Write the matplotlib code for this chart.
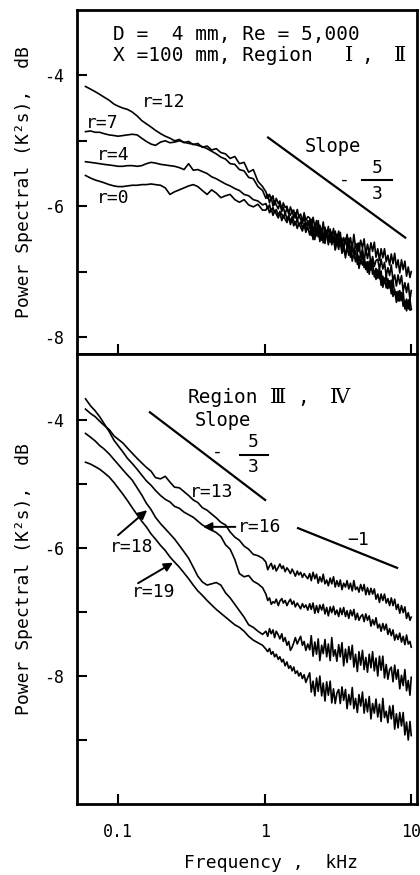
import matplotlib
matplotlib.use('Agg')
import matplotlib.pyplot as plt
from matplotlib.ticker import FixedLocator, NullLocator, NullFormatter

MONO = ['DejaVu Sans Mono', 'DejaVu Sans', 'Noto Sans CJK JP']
ROMAN = ['DejaVu Serif', 'Noto Sans CJK JP']

# shared frequency grid (kHz) for all spectra
FREQ = [0.060, 0.065, 0.070, 0.075, 0.080, 0.087, 0.094, 0.100, 0.108, 0.116,
        0.125, 0.135, 0.145, 0.156, 0.168, 0.180, 0.195, 0.210, 0.226, 0.243,
        0.262, 0.282, 0.303, 0.326, 0.350, 0.376, 0.405, 0.435, 0.468, 0.503,
        0.541, 0.582, 0.626, 0.673, 0.724, 0.778, 0.837, 0.900, 0.968,
        1.02, 1.05, 1.08, 1.11, 1.14, 1.17, 1.20, 1.24, 1.27, 1.31, 1.34, 1.38,
        1.42, 1.46, 1.50, 1.54, 1.58, 1.62, 1.67, 1.71, 1.76, 1.81, 1.86, 1.91, 1.97,
        2.03, 2.08, 2.14, 2.20, 2.26, 2.32, 2.38, 2.45, 2.51, 2.58,
        2.65, 2.72, 2.80, 2.87, 2.95, 3.03, 3.11, 3.20, 3.28, 3.37,
        3.46, 3.56, 3.65, 3.75, 3.85, 3.96, 4.06, 4.17, 4.29, 4.40,
        4.52, 4.65, 4.77, 4.90, 5.03, 5.17, 5.31, 5.45, 5.60, 5.75,
        5.91, 6.07, 6.23, 6.40, 6.57, 6.75, 6.93, 7.12, 7.31, 7.51,
        7.71, 7.92, 8.13, 8.35, 8.58, 8.81, 9.05, 9.29, 9.54, 9.80, 10.0]

# upper panel: Region I, II  (level, dB scale of the original)
R12 = [-4.17, -4.21, -4.25, -4.29, -4.33, -4.38, -4.44, -4.47, -4.50, -4.52,
       -4.56, -4.62, -4.69, -4.74, -4.79, -4.84, -4.89, -4.93, -4.96, -5.00,
       -4.98, -5.03, -5.01, -5.06, -5.04, -5.10, -5.08, -5.14, -5.12, -5.18,
       -5.20, -5.27, -5.24, -5.35, -5.33, -5.48, -5.44, -5.62, -5.70,
       -5.78, -5.88, -5.82, -5.90, -5.84, -5.98, -5.88, -5.96, -5.92, -6.06, -5.95, -6.02,
       -6.00, -6.12, -6.01, -6.10, -6.06, -6.18, -6.05, -6.16, -6.12, -6.24, -6.10, -6.22, -6.16,
       -6.18, -6.34, -6.17, -6.32, -6.22, -6.43, -6.29, -6.41, -6.24, -6.47,
       -6.37, -6.53, -6.35, -6.48, -6.34, -6.57, -6.43, -6.56, -6.40, -6.63,
       -6.48, -6.57, -6.43, -6.62, -6.48, -6.66, -6.43, -6.63, -6.57, -6.69,
       -6.52, -6.64, -6.50, -6.74, -6.58, -6.72, -6.56, -6.69, -6.55, -6.78,
       -6.65, -6.83, -6.65, -6.79, -6.65, -6.85, -6.75, -6.90, -6.73, -6.88,
       -6.72, -6.94, -6.82, -7.02, -6.82, -6.97, -6.84, -7.07, -6.93, -7.09, -7.00]
R7 = [-4.86, -4.85, -4.87, -4.87, -4.89, -4.91, -4.92, -4.93, -4.92, -4.91,
      -4.90, -4.91, -4.96, -5.01, -5.05, -5.07, -5.02, -5.00, -5.03, -5.02,
      -5.00, -5.02, -5.04, -5.05, -5.07, -5.09, -5.12, -5.16, -5.20, -5.25,
      -5.28, -5.35, -5.36, -5.44, -5.46, -5.56, -5.58, -5.70, -5.76,
      -5.88, -5.82, -5.95, -5.86, -6.00, -5.92, -5.98, -6.04, -5.95, -6.08, -6.02, -6.12,
      -6.03, -6.10, -6.14, -6.06, -6.18, -6.10, -6.22, -6.14, -6.20, -6.26, -6.16, -6.30, -6.22,
      -6.34, -6.20, -6.39, -6.27, -6.45, -6.22, -6.42, -6.36, -6.49, -6.32,
      -6.45, -6.31, -6.55, -6.40, -6.54, -6.38, -6.51, -6.38, -6.61, -6.49,
      -6.67, -6.49, -6.63, -6.49, -6.69, -6.59, -6.74, -6.57, -6.71, -6.56,
      -6.78, -6.65, -6.85, -6.65, -6.80, -6.67, -6.90, -6.77, -6.92, -6.83,
      -6.81, -6.97, -6.81, -6.96, -6.86, -7.07, -6.94, -7.06, -6.90, -7.14,
      -7.05, -7.22, -7.05, -7.19, -7.06, -7.30, -7.17, -7.32, -7.18, -7.43, -7.29]
R4 = [-5.32, -5.33, -5.34, -5.35, -5.36, -5.37, -5.38, -5.39, -5.39, -5.38,
      -5.38, -5.39, -5.38, -5.35, -5.33, -5.34, -5.36, -5.37, -5.38, -5.39,
      -5.41, -5.44, -5.35, -5.45, -5.44, -5.47, -5.50, -5.55, -5.58, -5.62,
      -5.66, -5.69, -5.73, -5.76, -5.82, -5.84, -5.90, -5.92, -5.98,
      -5.96, -6.04, -5.98, -6.08, -6.02, -6.10, -6.05, -6.14, -6.08, -6.12, -6.18, -6.10,
      -6.20, -6.14, -6.24, -6.16, -6.22, -6.28, -6.19, -6.30, -6.24, -6.33, -6.26, -6.36, -6.28,
      -6.22, -6.45, -6.33, -6.51, -6.32, -6.47, -6.32, -6.52, -6.42, -6.57,
      -6.39, -6.54, -6.38, -6.59, -6.47, -6.66, -6.47, -6.62, -6.48, -6.71,
      -6.58, -6.74, -6.65, -6.63, -6.78, -6.62, -6.77, -6.68, -6.89, -6.76,
      -6.88, -6.71, -6.94, -6.85, -7.01, -6.84, -6.98, -6.85, -7.08, -6.95,
      -7.10, -6.96, -7.21, -7.07, -7.18, -7.05, -7.26, -7.14, -7.34, -7.13,
      -7.35, -7.31, -7.45, -7.29, -7.44, -7.31, -7.57, -7.42, -7.57, -7.43, -7.57]
R0 = [-5.53, -5.57, -5.60, -5.62, -5.64, -5.67, -5.69, -5.70, -5.70, -5.69,
      -5.68, -5.68, -5.67, -5.67, -5.66, -5.67, -5.68, -5.72, -5.82, -5.78,
      -5.75, -5.72, -5.69, -5.67, -5.70, -5.76, -5.82, -5.75, -5.80, -5.87,
      -5.84, -5.82, -5.90, -5.94, -5.90, -5.98, -6.01, -5.97, -6.06,
      -6.06, -6.00, -6.10, -6.04, -6.14, -6.07, -6.12, -6.18, -6.10, -6.22, -6.14, -6.20,
      -6.25, -6.16, -6.28, -6.20, -6.30, -6.24, -6.34, -6.26, -6.32, -6.38, -6.28, -6.40, -6.32,
      -6.44, -6.31, -6.51, -6.31, -6.45, -6.32, -6.54, -6.40, -6.56, -6.46,
      -6.43, -6.59, -6.42, -6.56, -6.47, -6.67, -6.54, -6.66, -6.49, -6.72,
      -6.63, -6.79, -6.62, -6.75, -6.61, -6.84, -6.71, -6.85, -6.71, -6.95,
      -6.81, -6.90, -6.77, -6.97, -6.85, -7.04, -6.83, -7.04, -6.99, -7.12,
      -6.97, -7.11, -6.99, -7.24, -7.10, -7.25, -7.11, -7.25, -7.13, -7.38,
      -7.27, -7.47, -7.30, -7.45, -7.32, -7.53, -7.44, -7.60, -7.43, -7.59, -7.58]

# lower panel: Region III, IV
R13 = [-3.83, -3.90, -3.95, -4.02, -4.08, -4.15, -4.25, -4.30, -4.36, -4.44,
       -4.52, -4.60, -4.67, -4.74, -4.80, -4.90, -4.92, -4.88, -4.97, -5.05,
       -5.06, -5.12, -5.18, -5.25, -5.29, -5.37, -5.41, -5.47, -5.53, -5.60,
       -5.64, -5.75, -5.83, -5.88, -5.97, -6.02, -6.10, -6.12, -6.16,
       -6.22, -6.34, -6.28, -6.24, -6.33, -6.27, -6.36, -6.30, -6.25, -6.32, -6.28, -6.37,
       -6.31, -6.35, -6.40, -6.33, -6.38, -6.44, -6.36, -6.42, -6.38, -6.46, -6.40, -6.44, -6.48,
       -6.40, -6.51, -6.38, -6.48, -6.41, -6.55, -6.45, -6.53, -6.41, -6.56,
       -6.50, -6.59, -6.47, -6.56, -6.45, -6.61, -6.51, -6.60, -6.50, -6.65,
       -6.55, -6.61, -6.51, -6.64, -6.55, -6.67, -6.51, -6.65, -6.61, -6.69,
       -6.57, -6.67, -6.57, -6.73, -6.62, -6.73, -6.63, -6.72, -6.64, -6.80,
       -6.72, -6.85, -6.72, -6.82, -6.72, -6.86, -6.79, -6.90, -6.78, -6.90,
       -6.80, -6.96, -6.88, -7.02, -6.90, -7.01, -6.92, -7.10, -7.01, -7.13, -7.08]
R16 = [-3.67, -3.78, -3.86, -3.95, -4.05, -4.18, -4.32, -4.40, -4.50, -4.60,
       -4.68, -4.77, -4.86, -4.95, -5.02, -5.10, -5.18, -5.24, -5.28, -5.35,
       -5.38, -5.44, -5.48, -5.52, -5.58, -5.64, -5.68, -5.72, -5.76, -5.82,
       -5.95, -6.02, -6.18, -6.40, -6.45, -6.43, -6.52, -6.56, -6.62,
       -6.72, -6.82, -6.78, -6.88, -6.84, -6.86, -6.80, -6.90, -6.83, -6.79, -6.86, -6.82,
       -6.90, -6.84, -6.80, -6.88, -6.83, -6.92, -6.86, -6.90, -6.95, -6.87, -6.93, -6.89, -6.97,
       -6.87, -6.96, -6.86, -7.02, -6.90, -7.01, -6.89, -6.97, -6.88, -7.03,
       -6.93, -7.06, -6.92, -7.01, -6.91, -7.04, -6.97, -7.07, -6.94, -7.04,
       -6.93, -7.07, -6.98, -7.10, -6.97, -7.06, -6.96, -7.12, -7.02, -7.13,
       -7.07, -7.04, -7.15, -7.03, -7.13, -7.06, -7.22, -7.12, -7.20, -7.09,
       -7.25, -7.19, -7.30, -7.18, -7.28, -7.19, -7.35, -7.26, -7.37, -7.28,
       -7.44, -7.35, -7.43, -7.33, -7.47, -7.38, -7.51, -7.36, -7.50, -7.46, -7.55]
R18 = [-4.21, -4.27, -4.33, -4.40, -4.45, -4.53, -4.62, -4.69, -4.78, -4.86,
       -4.94, -5.06, -5.17, -5.30, -5.40, -5.52, -5.62, -5.70, -5.78, -5.86,
       -5.96, -6.06, -6.16, -6.30, -6.44, -6.53, -6.58, -6.56, -6.54, -6.58,
       -6.70, -6.78, -6.88, -6.98, -7.08, -7.20, -7.24, -7.30, -7.35,
       -7.30, -7.38, -7.26, -7.34, -7.28, -7.40, -7.30, -7.36, -7.42, -7.34, -7.46, -7.40,
       -7.52, -7.46, -7.60, -7.55, -7.48, -7.40, -7.50, -7.44, -7.38, -7.52, -7.46, -7.60, -7.50,
       -7.59, -7.37, -7.69, -7.47, -7.66, -7.42, -7.76, -7.52, -7.65, -7.43,
       -7.70, -7.50, -7.76, -7.40, -7.69, -7.59, -7.77, -7.51, -7.70, -7.48,
       -7.84, -7.58, -7.79, -7.54, -7.74, -7.52, -7.86, -7.66, -7.93, -7.62,
       -7.83, -7.60, -7.90, -7.71, -7.94, -7.66, -7.87, -7.62, -7.92, -7.72,
       -8.00, -7.69, -7.91, -7.69, -8.03, -7.82, -8.05, -7.90, -7.86, -8.09,
       -7.83, -8.05, -7.90, -8.20, -7.99, -8.15, -7.90, -8.23, -8.07, -8.30, -8.02]
R19 = [-4.66, -4.69, -4.73, -4.77, -4.82, -4.89, -4.98, -5.06, -5.16, -5.26,
       -5.37, -5.48, -5.58, -5.67, -5.78, -5.86, -5.96, -6.04, -6.14, -6.22,
       -6.30, -6.39, -6.48, -6.58, -6.67, -6.74, -6.82, -6.89, -6.96, -7.02,
       -7.08, -7.14, -7.20, -7.24, -7.30, -7.38, -7.44, -7.48, -7.52,
       -7.58, -7.62, -7.57, -7.66, -7.62, -7.70, -7.66, -7.74, -7.70, -7.78, -7.74, -7.84,
       -7.78, -7.88, -7.84, -7.92, -7.86, -7.96, -7.92, -8.00, -7.95, -8.04, -7.98, -8.10, -8.02,
       -7.95, -8.25, -8.08, -8.31, -8.03, -8.24, -8.00, -8.31, -8.11, -8.39,
       -8.09, -8.30, -8.08, -8.42, -8.20, -8.43, -8.27, -8.21, -8.43, -8.17,
       -8.38, -8.21, -8.51, -8.29, -8.45, -8.18, -8.51, -8.35, -8.57, -8.29,
       -8.47, -8.25, -8.58, -8.36, -8.56, -8.32, -8.67, -8.43, -8.58, -8.36,
       -8.64, -8.44, -8.71, -8.35, -8.65, -8.55, -8.73, -8.47, -8.67, -8.46,
       -8.83, -8.59, -8.81, -8.57, -8.78, -8.57, -8.92, -8.72, -9.00, -8.71, -8.93]

TOP_SERIES = [R12, R7, R4, R0]
BOTTOM_SERIES = [R13, R16, R18, R19]

# reference slope lines (frequency kHz, level)
SLOPE53_TOP_F, SLOPE53_TOP_V = [1.056, 9.1], [-4.95, -6.48]
SLOPE53_BOT_F, SLOPE53_BOT_V = [0.165, 1.008], [-3.88, -5.25]
SLOPE1_BOT_F, SLOPE1_BOT_V = [1.69, 8.0], [-5.69, -6.31]

fig = plt.figure(figsize=(4.2, 8.75), dpi=100)
ax_t = fig.add_axes([0.1833, 0.5954, 0.8096, 0.3932])
ax_b = fig.add_axes([0.1833, 0.0811, 0.8096, 0.5143])

for ax in (ax_t, ax_b):
    ax.set_xscale('log')
    ax.set_xlim(0.0525, 10.95)
    for sp in ax.spines.values():
        sp.set_linewidth(2.0)
    ax.xaxis.set_major_locator(FixedLocator([0.1, 1, 10]))
    ax.xaxis.set_minor_locator(NullLocator())
    ax.tick_params(axis='both', which='both', direction='in', width=1.5)
    ax.tick_params(axis='both', which='major', length=7)
    ax.tick_params(axis='y', which='minor', length=7)
    ax.set_ylabel('Power Spectral (K²s),  dB', family=MONO, fontsize=13,
                  labelpad=8)

for vals in TOP_SERIES:
    ax_t.plot(FREQ, vals, color='black', lw=1.2)
for vals in BOTTOM_SERIES:
    ax_b.plot(FREQ, vals, color='black', lw=1.2)

ax_t.set_ylim(-8.26, -3.0)
ax_b.set_ylim(-10.0, -2.97)
ax_t.set_yticks([-8, -6, -4])
ax_t.set_yticks([-7, -5], minor=True)
ax_b.set_yticks([-8, -6, -4])
ax_b.set_yticks([-9, -7, -5], minor=True)
for ax in (ax_t, ax_b):
    ax.set_yticklabels(['-8', '-6', '-4'], family=MONO, fontsize=12)
    ax.tick_params(axis='y', pad=9)
ax_t.xaxis.set_major_formatter(NullFormatter())
ax_b.set_xticklabels(['0.1', '1', '10'], family=MONO, fontsize=12)
ax_b.tick_params(axis='x', pad=14)
fig.text(271 / 420, 1 - 863 / 875, 'Frequency ,  kHz', family=MONO,
         fontsize=13, ha='center', va='center')

# slope guide lines
ax_t.plot(SLOPE53_TOP_F, SLOPE53_TOP_V, color='black', lw=1.6)
ax_b.plot(SLOPE53_BOT_F, SLOPE53_BOT_V, color='black', lw=1.6)
ax_b.plot(SLOPE1_BOT_F, SLOPE1_BOT_V, color='black', lw=1.6)

# upper panel text
kw = dict(transform=ax_t.transAxes, family=MONO, va='center')
rkw = dict(transform=ax_t.transAxes, family=ROMAN, va='center', ha='center',
           fontsize=15)
ax_t.text(0.106, 0.930, 'D =  4 mm, Re = 5,000', fontsize=14, **kw)
ax_t.text(0.106, 0.869, 'X =100 mm, Region', fontsize=14, **kw)
ax_t.text(0.800, 0.869, 'Ⅰ', **rkw)
ax_t.text(0.853, 0.869, ',', fontsize=14, ha='center', **kw)
ax_t.text(0.950, 0.869, 'Ⅱ', **rkw)
ax_t.text(0.191, 0.733, 'r=12', fontsize=13, **kw)
ax_t.text(0.026, 0.672, 'r=7', fontsize=13, **kw)
ax_t.text(0.059, 0.578, 'r=4', fontsize=13, **kw)
ax_t.text(0.059, 0.453, 'r=0', fontsize=13, **kw)
ax_t.text(0.671, 0.602, 'Slope', fontsize=13.5, **kw)
ax_t.text(0.785, 0.506, '-', fontsize=13, ha='center', **kw)
ax_t.text(0.882, 0.540, '5', fontsize=13, ha='center', **kw)
ax_t.text(0.882, 0.466, '3', fontsize=13, ha='center', **kw)
ax_t.plot([0.838, 0.926], [0.506, 0.506], transform=ax_t.transAxes,
          color='black', lw=1.5)

# lower panel text
kw = dict(transform=ax_b.transAxes, family=MONO, va='center')
rkw = dict(transform=ax_b.transAxes, family=ROMAN, va='center', ha='center',
           fontsize=15)
ax_b.text(0.326, 0.904, 'Region', fontsize=14, **kw)
ax_b.text(0.590, 0.904, 'Ⅲ', **rkw)
ax_b.text(0.664, 0.904, ',', fontsize=14, ha='center', **kw)
ax_b.text(0.774, 0.904, 'Ⅳ', **rkw)
ax_b.text(0.347, 0.853, 'Slope', fontsize=13.5, **kw)
ax_b.text(0.412, 0.782, '-', fontsize=13, ha='center', **kw)
ax_b.text(0.518, 0.805, '5', fontsize=13, ha='center', **kw)
ax_b.text(0.518, 0.750, '3', fontsize=13, ha='center', **kw)
ax_b.plot([0.479, 0.562], [0.776, 0.776], transform=ax_b.transAxes,
          color='black', lw=1.5)
ax_b.text(0.332, 0.693, 'r=13', fontsize=13, **kw)
ax_b.text(0.826, 0.587, '−1', fontsize=13, ha='center', **kw)

arrow = dict(arrowstyle='-|>', color='black', lw=1.4, mutation_scale=13,
             shrinkA=0, shrinkB=0)
ax_b.annotate('r=16', xy=(0.38, -5.67), xytext=(0.66, -5.67),
              textcoords='data', arrowprops=arrow, family=MONO, fontsize=13,
              va='center', ha='left')
ax_b.annotate('', xy=(0.158, -5.41), xytext=(0.1, -5.80), arrowprops=arrow)
ax_b.text(0.097, 0.571, 'r=18', fontsize=13, **kw)
ax_b.annotate('', xy=(0.237, -6.23), xytext=(0.137, -6.55), arrowprops=arrow)
ax_b.text(0.162, 0.471, 'r=19', fontsize=13, **kw)

fig.savefig('out.png', dpi=100)
